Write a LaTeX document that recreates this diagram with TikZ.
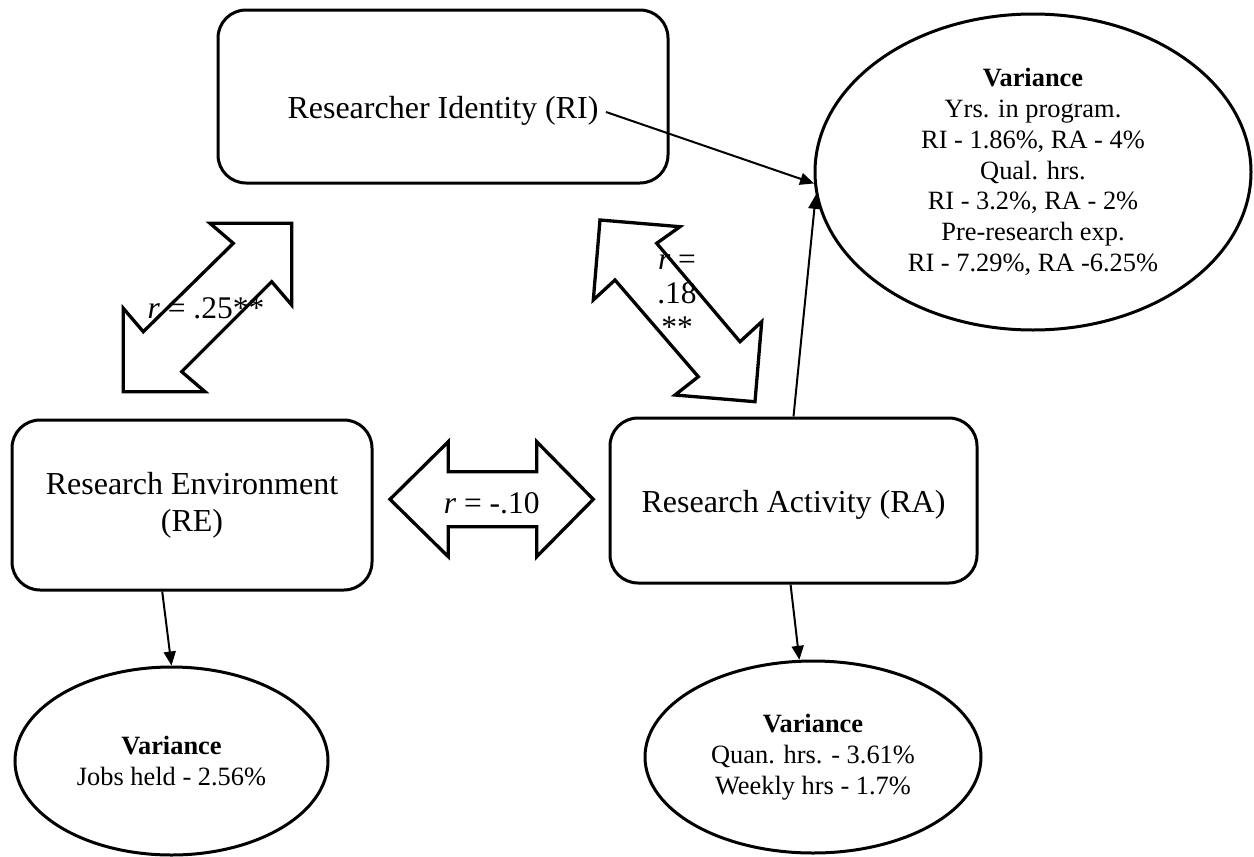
\documentclass[tikz,border=0pt]{standalone}
\usepackage{fontspec}
\setmainfont{Liberation Serif}
\usetikzlibrary{shapes.geometric,arrows.meta}

\begin{document}
\begin{tikzpicture}[x=1pt,y=-1pt,
  box/.style={draw,line width=3pt,rounded corners=28pt,align=center,font=\fontsize{32}{36.7}\selectfont},
  var/.style={draw,ellipse,line width=3pt,inner sep=0pt,align=center,font=\fontsize{26.4}{30.8}\selectfont},
  blk/.style={draw,line width=3.3pt,fill=white,line join=miter},
  lab/.style={font=\fontsize{31.5}{34}\selectfont,align=center},
  con/.style={line width=2pt,-{Triangle[length=14pt,width=12pt]}}]
  \useasboundingbox (0,0) rectangle (1254,857);
  \node[box,minimum width=450pt,minimum height=173pt,text height=51pt,text depth=8pt] (0) at (443,96.5) {Researcher Identity (RI)};
  \node[box,minimum width=360pt,minimum height=170pt] (1) at (192,505) {Research Environment\\(RE)};
  \node[box,minimum width=367pt,minimum height=165pt,text height=31pt,text depth=8pt] (2) at (793.5,500.5) {Research Activity (RA)};
  \node[var,minimum width=436pt,minimum height=316pt] (3) at (1033,172) {\textbf{Variance}\\Yrs. in program.\\RI - 1.86\%, RA - 4\%\\Qual. hrs.\\RI - 3.2\%, RA - 2\%\\Pre-research exp.\\RI - 7.29\%, RA -6.25\%};
  \node[var,minimum width=313pt,minimum height=188pt] (4) at (171.5,761) {\textbf{Variance}\\Jobs held - 2.56\%};
  \node[var,minimum width=336pt,minimum height=192pt] (5) at (813,757) {\textbf{Variance}\\Quan. hrs. - 3.61\%\\Weekly hrs - 1.7\%};
  \draw[blk] (291.7,223.3) -- (291.7,305) -- (271.7,281.7) -- (181.7,371.7) -- (205,391.7) -- (123.3,391.7) -- (123.3,308.3) -- (143.3,331.7) -- (233.3,243.3) -- (210,223.3) -- cycle;
  \draw[blk] (600,220) -- (680,226.7) -- (656.7,243.3) -- (740,341.7) -- (761.7,321.7) -- (755,401.7) -- (675,395) -- (698.3,376.7) -- (615,280) -- (593.3,300) -- cycle;
  \draw[blk] (390,499.3) -- (448.3,441.7) -- (448.3,471.7) -- (536.7,471.7) -- (536.7,441.7) -- (593.3,499.3) -- (536.7,556.7) -- (536.7,526.7) -- (448.3,526.7) -- (448.3,556.7) -- cycle;
  \node[lab] (6) at (206,308) {\textit{r} = .25**};
  \node[lab] (7) at (677,296) {\textit{r} =\\.18\\**};
  \node[lab] (8) at (491.7,503) {\textit{r} = -.10};
  \coordinate (9) at (606,112);
  \draw[con] (9)--(3.183);
  \draw[con] (2.north)--(3.186);
  \draw[con] (1.251)--(4.north);
  \draw[con] (2.268)--(5.98);
\end{tikzpicture}
\end{document}
